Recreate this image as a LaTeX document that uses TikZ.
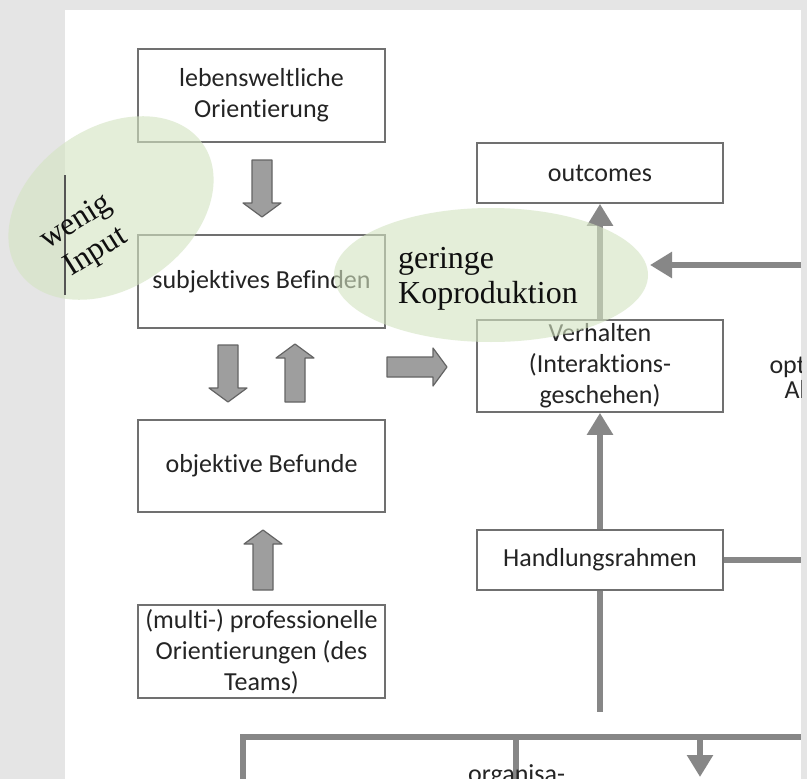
\documentclass[tikz,border=0pt]{standalone}
\usepackage{fontspec}
\setmainfont{Carlito}[Ligatures=NoCommon]
\newfontfamily\notefont{Liberation Serif}
\usetikzlibrary{arrows.meta}

\definecolor{bggray}{RGB}{229,229,229}
\definecolor{boxline}{RGB}{112,112,112}
\definecolor{flowgray}{RGB}{135,135,135}
\definecolor{blockfill}{RGB}{158,158,158}
\definecolor{blockline}{RGB}{100,100,100}
\definecolor{notegreen}{RGB}{212,228,194}
\definecolor{txt}{RGB}{36,36,36}
\definecolor{notetxt}{RGB}{15,15,15}

\tikzset{
  box/.style={draw=boxline, line width=1.7pt, fill=white, text=txt, align=center,
    font=\fontsize{26}{31}\selectfont, minimum width=247pt, inner sep=0pt},
  flow/.style={draw=flowgray, line width=5.5pt,
    -{Triangle[width=25pt,length=22pt]}},
  plainflow/.style={draw=flowgray, line width=5.5pt},
  blob/.style={fill=notegreen, fill opacity=0.62},
  note/.style={font=\notefont\fontsize{32}{36}\selectfont, text=notetxt, align=left, inner sep=0pt},
  pics/blockarrow/.style={code={
    \draw[draw=blockline, fill=blockfill, line width=1.2pt, line join=round]
      (-10,0) -- (-10,#1-14) -- (-19,#1-14) -- (0,#1) -- (19,#1-14)
      -- (10,#1-14) -- (10,0) -- cycle;}}
}

\begin{document}
\begin{tikzpicture}[x=1pt,y=-1pt]
  \useasboundingbox (0,0) rectangle (807,779);
  \clip (0,0) rectangle (807,779);

  % backdrop and slide panel
  \fill[bggray] (0,0) rectangle (807,779);
  \fill[white] (65,10) rectangle (801,779);

  % left column
  \node[box, minimum height=93pt] (lebens) at (261.5,95.5) {lebensweltliche\\Orientierung};
  \node[box, minimum height=93pt] (subj)   at (261.5,281.5) {subjektives Befinden};
  \node[box, minimum height=92pt] (obj)    at (261.5,466) {objektive Befunde};
  \node[box, minimum height=93pt] (prof)   at (261.5,651.5) {(multi-) professionelle\\Orientierungen (des\\Teams)};

  % right column
  \node[box, minimum width=246pt, minimum height=60pt] (outc) at (600,173) {outcomes};
  \node[box, minimum width=246pt, minimum height=92pt] (verh) at (600,366) {Verhalten\\(Interaktions-\\geschehen)};
  \node[box, minimum width=246pt, minimum height=60pt] (hand) at (600,560) {Handlungsrahmen};

  % block arrows between the boxes
  \pic at (262,160) {blockarrow=57};
  \pic at (228,345) {blockarrow=57};
  \pic[rotate=180] at (295,402) {blockarrow=58};
  \pic[rotate=180] at (263,590) {blockarrow=60};
  \pic[rotate=90] at (387,367) {blockarrow=60};

  % connectors
  \coordinate (rin)   at (801,265);
  \coordinate (rtip)  at (650,265);
  \coordinate (rout)  at (801,560);
  \coordinate (hbot)  at (hand.south |- 0,712);
  \coordinate (bl)    at (243,779);
  \coordinate (bc)    at (243,737);
  \coordinate (br)    at (801,737);
  \coordinate (mtop)  at (516,737);
  \coordinate (mbot)  at (516,779);
  \coordinate (atop)  at (700,737);
  \coordinate (abot)  at (700,777);

  \draw[flow] (verh.north) -- (outc.south);
  \draw[flow] (hand.north) -- (verh.south);
  \draw[flow] (rin) -- (rtip);
  \draw[plainflow] (hand.east) -- (rout);
  \draw[plainflow] (hand.south) -- (hbot);
  \draw[plainflow] (bl) -- (bc) -- (br);
  \draw[plainflow] (mtop) -- (mbot);
  \draw[flow] (atop) -- (abot);

  % partly visible labels at the edges
  \begin{scope}
    \clip (740,330) rectangle (801,420);
    \node[font=\fontsize{26}{31}\selectfont, text=txt, anchor=base west] (opt) at (766,373) {opt};
    \node[font=\fontsize{26}{31}\selectfont, text=txt, anchor=base west] (ab) at (781,398) {Ab};
  \end{scope}
  \node[font=\fontsize{26}{31}\selectfont, text=txt, anchor=base west, inner sep=0pt] (orga) at (468,782) {organisa-};

  % highlighted remarks
  \fill[blob, rotate around={35:(111,208)}] (111,208) ellipse [x radius=112, y radius=80];
  \fill[blob] (491,275) ellipse [x radius=157, y radius=67];
  \draw[draw=blockline!85!black, line width=1.4pt] (65,175) -- (65,295);

  \node[note, rotate=32, anchor=center] (wenig) at (86,238) {wenig\\\hspace*{6pt}Input};
  \node[note, anchor=base west] (ger) at (398,268) {geringe};
  \node[note, anchor=base west] (kopro) at (398,303) {Koproduktion};
\end{tikzpicture}
\end{document}
